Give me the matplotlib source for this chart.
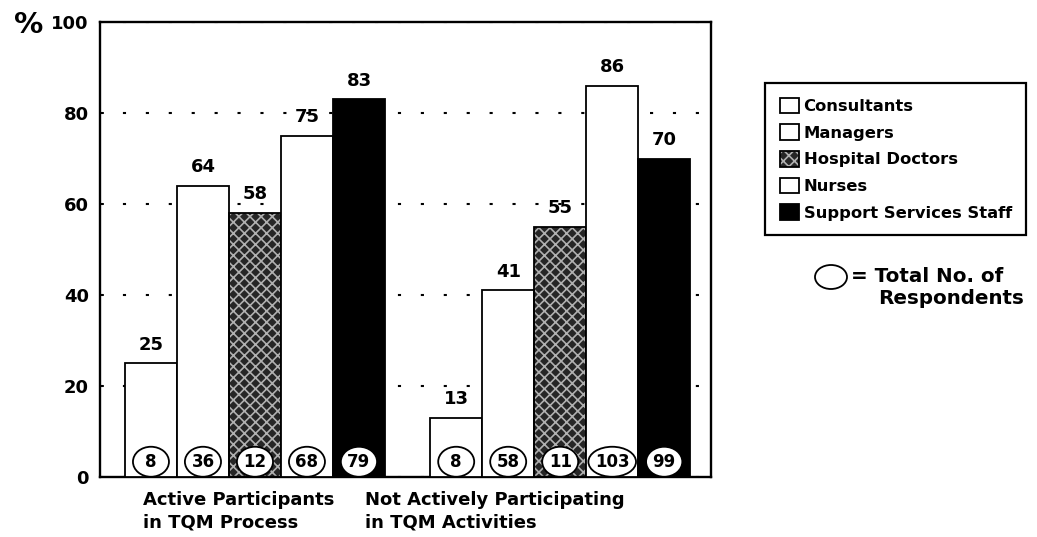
import matplotlib
matplotlib.use("Agg")
import matplotlib.pyplot as plt
from matplotlib.patches import Ellipse
from matplotlib.legend_handler import HandlerTuple

# ---- data -------------------------------------------------------------
groups = ["Active Participants\nin TQM Process",
          "Not Actively Participating\nin TQM Activities"]
staff = ["Consultants", "Managers", "Hospital Doctors", "Nurses",
         "Support Services Staff"]
consultants_pct = [25, 13]
managers_pct = [64, 41]
doctors_pct = [58, 55]
nurses_pct = [75, 86]
support_pct = [83, 70]
consultants_n = [8, 8]
managers_n = [36, 58]
doctors_n = [12, 11]
nurses_n = [68, 103]
support_n = [79, 99]
y_ticks = [0, 20, 40, 60, 80, 100]

pct = [consultants_pct, managers_pct, doctors_pct, nurses_pct, support_pct]
counts = [consultants_n, managers_n, doctors_n, nurses_n, support_n]

plt.rcParams['font.family'] = ['DejaVu Sans']
plt.rcParams['font.weight'] = 'bold'
plt.rcParams['hatch.linewidth'] = 1.2

W, H = 1037, 537
fig = plt.figure(figsize=(W / 100, H / 100), dpi=100)
ax = fig.add_axes([100 / W, 1 - 477 / H, 611 / W, 455 / H])

group_centers = [0.0, 5.87]
offsets = [-2, -1, 0, 1, 2]
ax.set_xlim(-2.98, 8.77)
ax.set_ylim(0, 100)

edge_lw = 1.3
handles = []
for i, name in enumerate(staff):
    xs = [c + offsets[i] for c in group_centers]
    if name == "Hospital Doctors":
        tex = ax.bar(xs, pct[i], width=1.0, color="#262626", edgecolor="#b0b0b0",
                     hatch="xxx", linewidth=0, zorder=2)
        outl = ax.bar(xs, pct[i], width=1.0, fill=False, edgecolor="black",
                      linewidth=edge_lw, zorder=3)
        handles.append((tex.patches[0], outl.patches[0]))
    else:
        fc = "black" if name == "Support Services Staff" else "white"
        b = ax.bar(xs, pct[i], width=1.0, color=fc, edgecolor="black",
                   linewidth=edge_lw, zorder=3)
        handles.append(b.patches[0])
    for x, v in zip(xs, pct[i]):
        ax.annotate(str(v), (x, v), xytext=(0, 7), textcoords="offset points",
                    ha="center", va="bottom", fontsize=13, fontweight="bold",
                    zorder=5)

# axis styling
for s in ax.spines.values():
    s.set_linewidth(1.7)
ax.set_yticks(y_ticks)
ax.set_yticklabels([str(t) for t in y_ticks], fontsize=13, fontweight="bold")
ax.tick_params(axis="y", direction="in", length=3, width=1.2, pad=8)
ax.set_xticks([])
ax.yaxis.grid(True, linestyle=(0, (1.5, 9.5)), linewidth=1.5, color="black")
ax.set_axisbelow(True)

fig.text(14 / W, 1 - 25 / H, "%", fontsize=21, fontweight="bold",
         ha="left", va="center")

# group labels under the axis
for lab, xl in zip(groups, [143, 365]):
    fig.text(xl / W, 1 - 491 / H, lab, fontsize=13, fontweight="bold",
             ha="left", va="top", linespacing=1.3)

# respondent counts in ellipses at the foot of each bar
fig.canvas.draw()
renderer = fig.canvas.get_renderer()
px_x = ax.transData.transform((1, 0))[0] - ax.transData.transform((0, 0))[0]
px_y = ax.transData.transform((0, 1))[1] - ax.transData.transform((0, 0))[1]
ell_h = 30
for i in range(len(staff)):
    xs = [c + offsets[i] for c in group_centers]
    for x, n in zip(xs, counts[i]):
        t = ax.text(x, 3.35, str(n), ha="center", va="center", fontsize=12,
                    fontweight="bold", zorder=7)
        w = max(36, t.get_window_extent(renderer).width + 13)
        ax.add_patch(Ellipse((x, 3.35), w / px_x, ell_h / px_y,
                             facecolor="white", edgecolor="black",
                             linewidth=1.3, zorder=6))

# legend
leg = fig.legend(handles, staff, loc="upper left",
                 bbox_to_anchor=(765 / W, 1 - 83 / H),
                 handler_map={tuple: HandlerTuple(ndivide=1)},
                 frameon=True, fancybox=False, framealpha=1,
                 edgecolor="black", fontsize=11.8,
                 handlelength=1.2, handleheight=1.1, handletextpad=0.25,
                 labelspacing=0.62, borderpad=0.9, borderaxespad=0)
leg.get_frame().set_linewidth(1.6)
for t in leg.get_texts():
    t.set_fontweight("bold")

# key for the count ellipses
fig.add_artist(Ellipse((831 / W, 1 - 277 / H), 32 / W, 24 / H,
                       transform=fig.transFigure, facecolor="white",
                       edgecolor="black", linewidth=1.3))
fig.text(851 / W, 1 - 276 / H, "= Total No. of", fontsize=14.3,
         fontweight="bold", ha="left", va="center")
fig.text(878 / W, 1 - 299 / H, "Respondents", fontsize=14.3,
         fontweight="bold", ha="left", va="center")

fig.savefig("out.png", dpi=100)
